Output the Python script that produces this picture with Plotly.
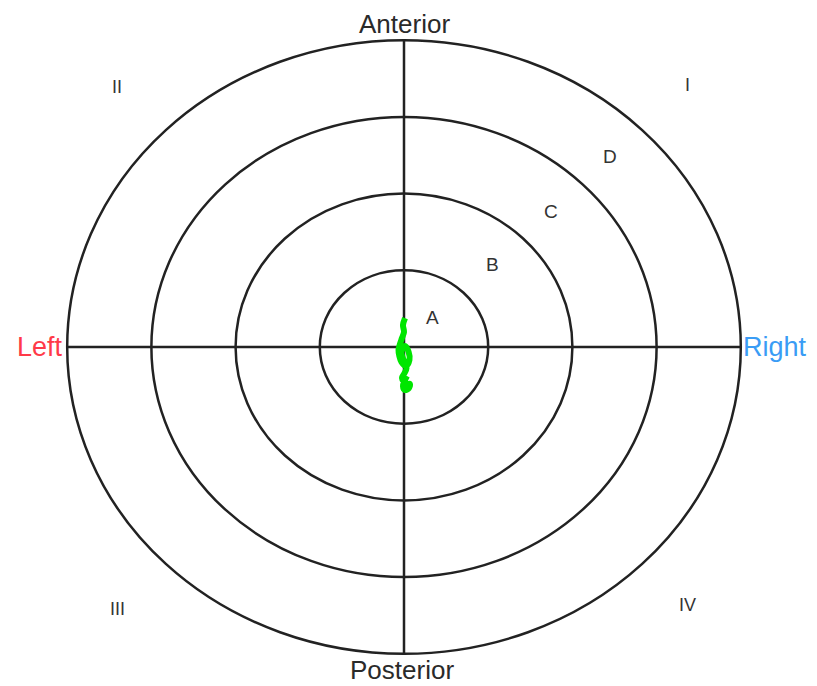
import plotly.graph_objects as go

# Ring radii (A..D) in target units
ring_radii = [1, 2, 3, 4]
ring_labels = ["A", "B", "C", "D"]
ring_label_x = [0.34, 1.05, 1.75, 2.45]
ring_label_y = [0.38, 1.07, 1.77, 2.48]

quadrant_labels = ["I", "II", "III", "IV"]
quadrant_x = [3.37, -3.41, -3.40, 3.37]
quadrant_y = [3.41, 3.39, -3.42, -3.36]

# Centre-of-pressure path (green)
cop_x = [0.012, -0.012, 0.0, -0.024, -0.048, -0.065, -0.055, -0.030, 0.024, 0.065,
         0.055, 0.012, -0.030, -0.005, 0.030, 0.0, -0.024, 0.0, 0.036, 0.071,
         0.059, 0.012, -0.012, 0.012, 0.036]
cop_y = [0.378, 0.287, 0.196, 0.117, 0.039, -0.039, -0.117, -0.196, -0.248, -0.169,
         -0.065, 0.013, -0.065, -0.169, -0.274, -0.352, -0.404, -0.456, -0.482, -0.482,
         -0.535, -0.561, -0.508, -0.430, -0.378]

fig = go.Figure()

fig.add_trace(go.Scatter(x=cop_x, y=cop_y, mode="lines",
                         line=dict(color="#00e600", width=6, shape="spline"),
                         hoverinfo="skip", showlegend=False))

line_col = "#222222"
shapes = []
for r in ring_radii:
    shapes.append(dict(type="circle", xref="x", yref="y", x0=-r, x1=r, y0=-r, y1=r,
                       line=dict(color=line_col, width=2.5), layer="below"))
R = max(ring_radii)
shapes.append(dict(type="line", xref="x", yref="y", x0=0, x1=0, y0=-R, y1=R,
                   line=dict(color=line_col, width=2.5), layer="below"))
shapes.append(dict(type="line", xref="x", yref="y", x0=-R, x1=R, y0=0, y1=0,
                   line=dict(color=line_col, width=2.5), layer="below"))

ann = []
font_main = "Liberation Sans, Arial, sans-serif"
for t, x, y in zip(ring_labels, ring_label_x, ring_label_y):
    ann.append(dict(x=x, y=y, text=t, showarrow=False,
                    font=dict(family=font_main, size=19, color="#333333")))
for t, x, y in zip(quadrant_labels, quadrant_x, quadrant_y):
    ann.append(dict(x=x, y=y, text=t, showarrow=False,
                    font=dict(family=font_main, size=18, color="#333333")))
ann.append(dict(x=0, y=1, xref="x", yref="paper", yanchor="top", text="Anterior",
                showarrow=False, borderpad=0,
                font=dict(family=font_main, size=26, color="#2a2a2a")))
ann.append(dict(x=-0.02, y=0, xref="x", yref="paper", yanchor="bottom", text="Posterior",
                showarrow=False, borderpad=0,
                font=dict(family=font_main, size=26, color="#2a2a2a")))
ann.append(dict(x=-4.03, y=0, text="Left", showarrow=False, xanchor="right",
                font=dict(family=font_main, size=27, color="#ff3a48")))
ann.append(dict(x=4.00, y=0, text="Right", showarrow=False, xanchor="left",
                font=dict(family=font_main, size=27, color="#3a9cf5")))

# The page body has an 8px default margin, so the figure is sized to fit the window.
fig.update_layout(
    width=809, height=678,
    margin=dict(l=0, r=0, t=0, b=0),
    paper_bgcolor="white", plot_bgcolor="white",
    xaxis=dict(range=[-4.703, 4.905], visible=False, fixedrange=True),
    yaxis=dict(range=[-4.420, 4.420], visible=False, fixedrange=True),
    shapes=shapes, annotations=ann, showlegend=False,
)

fig.write_html("out.html")
